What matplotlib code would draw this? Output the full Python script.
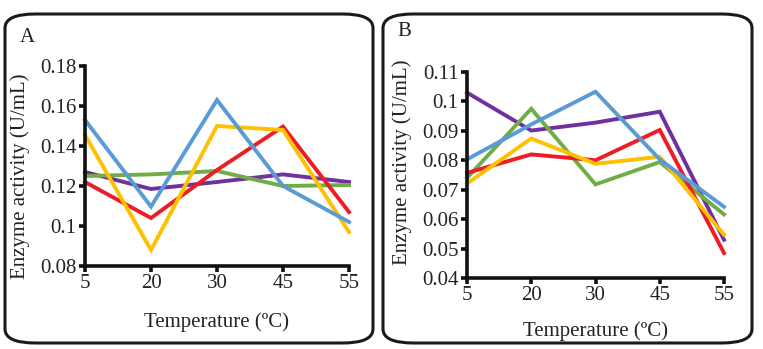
import matplotlib.pyplot as plt
from matplotlib.patches import FancyBboxPatch

plt.rcParams['font.family'] = ['Liberation Serif', 'DejaVu Serif']

temps = ['5', '20', '30', '45', '55']

# panel A
a_purple = [0.127, 0.1185, 0.122, 0.1258, 0.122]
a_green = [0.125, 0.1258, 0.1275, 0.120, 0.1205]
a_red = [0.122, 0.104, 0.128, 0.1497, 0.107]
a_yellow = [0.1455, 0.088, 0.150, 0.148, 0.097]
a_blue = [0.153, 0.1097, 0.163, 0.120, 0.102]

# panel B
b_purple = [0.103, 0.0901, 0.0928, 0.0965, 0.053]
b_green = [0.074, 0.0975, 0.0718, 0.0794, 0.0616]
b_red = [0.0757, 0.082, 0.080, 0.0903, 0.0485]
b_yellow = [0.0721, 0.0874, 0.0788, 0.0812, 0.0547]
b_blue = [0.0803, 0.0922, 0.1033, 0.0803, 0.0642]

colors = {'purple': '#7030A0', 'green': '#70AD47', 'red': '#EE1C25',
          'yellow': '#FFC000', 'blue': '#5B9BD5'}

W, H = 763, 349
fig = plt.figure(figsize=(W / 100, H / 100), dpi=100)

# rounded frames
for x0, x1 in [(5, 373), (383, 752)]:
    box = FancyBboxPatch((x0 / W, 1 - 343 / H), (x1 - x0) / W, (343 - 14) / H,
                         boxstyle='round,pad=0,rounding_size=0.04',
                         transform=fig.transFigure, fill=False,
                         edgecolor='#1a1a1a', linewidth=2.2)
    fig.patches.append(box)

FS = 15


def panel(rect, series, ylim, yticks, yfmt, letter, letter_pos, ylab_pos, xlab_y):
    ax = fig.add_axes(rect)
    x = range(len(temps))
    for name, vals in series:
        ax.plot(x, vals, color=colors[name], lw=2.8, clip_on=False,
                solid_joinstyle='miter')
    ax.set_xlim(0, 4)
    ax.set_ylim(*ylim)
    ax.set_xticks(list(x))
    ax.set_xticklabels(temps)
    ax.set_yticks(yticks)
    ax.set_yticklabels([yfmt(v) for v in yticks])
    for s in ['top', 'right']:
        ax.spines[s].set_visible(False)
    for s in ['left', 'bottom']:
        ax.spines[s].set_linewidth(2.6)
        ax.spines[s].set_color('#111111')
    ax.tick_params(direction='out', length=4, width=2.6, labelsize=FS,
                   colors='#111111', labelcolor='#222222', pad=2)
    ax.set_ylabel('Enzyme activity (U/mL)', fontsize=FS, color='#222222')
    ax.yaxis.set_label_coords(*ylab_pos)
    ax.set_xlabel('Temperature (ºC)', fontsize=FS, color='#222222')
    ax.xaxis.set_label_coords(0.5, xlab_y)
    fig.text(letter_pos[0] / W, 1 - letter_pos[1] / H, letter, fontsize=FS,
             color='#222222', va='center', ha='left')
    return ax


def fmt(v):
    s = ('%.2f' % v).rstrip('0').rstrip('.')
    return s


panel([85 / W, 1 - 266 / H, (349 - 85) / W, (266 - 66) / H],
      [('purple', a_purple), ('green', a_green), ('red', a_red),
       ('yellow', a_yellow), ('blue', a_blue)],
      (0.08, 0.18), [0.08, 0.10, 0.12, 0.14, 0.16, 0.18], fmt,
      'A', (20, 37), (-0.21, 0.45), -0.23)

panel([467 / W, 1 - 278 / H, (724 - 467) / W, (278 - 72) / H],
      [('purple', b_purple), ('green', b_green), ('red', b_red),
       ('yellow', b_yellow), ('blue', b_blue)],
      (0.04, 0.11), [0.04, 0.05, 0.06, 0.07, 0.08, 0.09, 0.10, 0.11], fmt,
      'B', (397, 31), (-0.215, 0.56), -0.21)

fig.savefig('out.png', dpi=100)
